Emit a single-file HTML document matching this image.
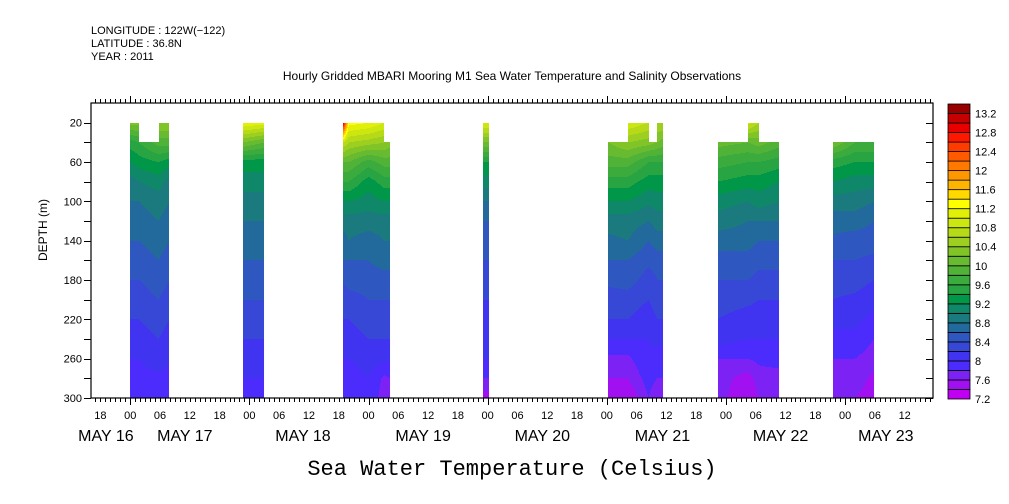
<!DOCTYPE html>
<html><head><meta charset="utf-8"><style>
html,body{margin:0;padding:0;background:#fff;}
svg{display:block;font-family:"Liberation Sans",sans-serif;}
</style></head><body>
<svg id="chart" width="1009" height="504" viewBox="0 0 1009 504" xmlns="http://www.w3.org/2000/svg">
<g font-size="11" fill="#000">
<text x="91" y="34">LONGITUDE : 122W(−122)</text>
<text x="91" y="47">LATITUDE : 36.8N</text>
<text x="91" y="60">YEAR : 2011</text>
</g>
<text x="512" y="80" font-size="12" text-anchor="middle">Hourly Gridded MBARI Mooring M1 Sea Water Temperature and Salinity Observations</text>
<g id="cells"></g>
<g id="axes"></g>
<g id="cbar"></g>
<text x="47" y="230" font-size="12" text-anchor="middle" transform="rotate(-90 47 230)">DEPTH (m)</text>
<text x="512" y="475" font-size="22" text-anchor="middle" font-family="Liberation Mono, monospace">Sea Water Temperature (Celsius)</text>
</svg>
<script>
// ---- data ----
const depths = [20,40,60,80,100,120,140,160,180,200,220,240,260,280,300];
const levels = [7.2,7.4,7.6,7.8,8.0,8.2,8.4,8.6,8.8,9.0,9.2,9.4,9.6,9.8,10.0,10.2,10.4,10.6,10.8,11.0,11.2,11.4,11.6,11.8,12.0,12.2,12.4,12.6,12.8,13.0,13.2,13.4];
const levelColors = ["#c000f0","#a010f0","#7c22f4","#4c2cfc","#4034f0","#3848d6","#2e58c0","#236a9c","#1a7a7e","#0e8868","#009848","#28a442","#3aab3c","#50b236","#68ba30","#80c428","#9ccf20","#b6da18","#cce610","#e2f008","#ffff00","#ffd800","#ffb400","#ff9800","#ff7800","#ff5a00","#ff3c00","#ff1800","#e80000","#c40000","#980000"];
const colorbarLabels = ["7.2","7.6","8","8.4","8.8","9.2","9.6","10","10.4","10.8","11.2","11.6","12","12.4","12.8","13.2"];
const hourTickLabels = ["18","00","06","12","18","00","06","12","18","00","06","12","18","00","06","12","18","00","06","12","18","00","06","12","18","00","06","12"];
const hourTickValues = [-6,0,6,12,18,24,30,36,42,48,54,60,66,72,78,84,90,96,102,108,114,120,126,132,138,144,150,156];
const dateLabels = ["MAY 16","MAY 17","MAY 18","MAY 19","MAY 20","MAY 21","MAY 22","MAY 23"];
const dateLabelHours = [-4.9,11,34.8,59,83,107.2,131,152.2];
const depthTicks = [20,60,100,140,180,220,260,300];
// blocks: column hours, tops for each interval, profiles per column
const block1Hours = [0,1.8,5.7,7.9];
const block1Tops = [20,40,20];
const block1Profiles = [
 [10.3,9.5,9.2,8.9,8.8,8.7,8.6,8.5,8.4,8.3,8.2,8.1,8.0,7.9,7.8],
 [10.3,9.6,9.3,9.0,8.8,8.7,8.6,8.5,8.4,8.3,8.2,8.1,8.0,7.95,7.8],
 [10.4,9.9,9.4,9.1,8.9,8.8,8.7,8.6,8.5,8.4,8.3,8.2,8.1,7.95,7.9],
 [10.4,9.9,9.3,8.9,8.8,8.7,8.6,8.5,8.4,8.3,8.2,8.1,8.0,7.95,7.9]];
const block2Hours = [22.8,27.0];
const block2Tops = [20];
const block2Profiles = [
 [11.2,10.2,9.3,9.1,8.9,8.8,8.7,8.6,8.5,8.4,8.3,8.2,8.1,8.0,7.8],
 [11.1,10.0,9.3,9.1,8.9,8.8,8.75,8.6,8.5,8.4,8.3,8.2,8.1,8.0,7.9]];
const block3Hours = [42.9,44,48,51.2,52.4];
const block3Tops = [20,20,20,40];
const block3Profiles = [
 [13.0,10.8,10.0,9.6,9.2,8.9,8.7,8.6,8.4,8.3,8.2,8.1,8.0,7.9,7.9],
 [11.3,10.6,10.0,9.6,9.2,8.9,8.8,8.6,8.5,8.3,8.2,8.1,8.0,7.9,7.9],
 [11.2,10.5,9.7,9.3,9.1,8.9,8.7,8.6,8.5,8.4,8.3,8.2,8.1,8.0,7.95],
 [11.0,10.4,9.9,9.5,9.2,8.9,8.8,8.7,8.5,8.4,8.3,8.2,8.05,7.75,7.7],
 [11.0,10.3,9.9,9.5,9.2,8.9,8.8,8.7,8.5,8.4,8.3,8.2,8.05,7.8,7.7]];
const block4Hours = [71.0,72.3];
const block4Tops = [20];
const block4Profiles = [
 [11.0,10.2,9.4,9.1,8.8,8.6,8.5,8.4,8.3,8.2,8.1,8.05,8.0,7.8,7.5],
 [11.0,10.2,9.4,9.1,8.8,8.6,8.5,8.4,8.3,8.2,8.1,8.05,8.0,7.8,7.5]];
const block5Hours = [96.2,100.2,104.4,106.2,107.4];
const block5Tops = [40,20,40,20];
const block5Profiles = [
 [10.4,10.2,9.9,9.5,9.2,8.9,8.75,8.6,8.45,8.3,8.2,8.0,7.75,7.6,7.5],
 [11.0,10.4,9.9,9.5,9.2,8.9,8.8,8.6,8.5,8.3,8.2,8.0,7.75,7.6,7.4],
 [10.8,10.3,9.6,9.3,9.05,8.8,8.6,8.45,8.3,8.2,8.1,8.0,8.0,7.9,7.8],
 [10.6,10.2,9.6,9.3,9.1,8.9,8.7,8.5,8.4,8.3,8.2,8.05,7.9,7.8,7.6],
 [10.6,10.1,9.6,9.3,9.1,8.9,8.7,8.5,8.4,8.3,8.2,8.05,7.9,7.8,7.6]];
const block6Hours = [118.3,124.4,126.6,130.7];
const block6Tops = [40,20,40];
const block6Profiles = [
 [10.4,10.1,9.7,9.4,9.1,8.9,8.7,8.5,8.4,8.3,8.2,8.1,7.8,7.7,7.7],
 [10.9,10.0,9.6,9.3,9.0,8.8,8.7,8.5,8.4,8.25,8.1,8.0,7.8,7.5,7.4],
 [10.6,10.1,9.6,9.3,9.1,8.8,8.6,8.45,8.35,8.2,8.1,8.0,7.85,7.7,7.6],
 [10.4,9.9,9.5,9.2,9.0,8.8,8.6,8.45,8.35,8.2,8.1,8.0,7.9,7.7,7.6]];
const block7Hours = [141.5,146,149.8];
const block7Tops = [40,40];
const block7Profiles = [
 [10.4,10.2,9.5,9.2,8.9,8.7,8.55,8.4,8.3,8.2,8.05,7.95,7.8,7.7,7.6],
 [10.3,9.8,9.4,9.1,8.9,8.7,8.5,8.4,8.3,8.15,8.05,7.95,7.8,7.7,7.6],
 [10.3,9.8,9.4,9.1,8.8,8.6,8.5,8.35,8.2,8.05,7.95,7.8,7.7,7.55,7.5]];
const blocksHours = [block1Hours,block2Hours,block3Hours,block4Hours,block5Hours,block6Hours,block7Hours];
const blocksTops = [block1Tops,block2Tops,block3Tops,block4Tops,block5Tops,block6Tops,block7Tops];
const blocksProfiles = [block1Profiles,block2Profiles,block3Profiles,block4Profiles,block5Profiles,block6Profiles,block7Profiles];

// ---- scales ----
const X0=91,X1=933,Y0=103,Y1=398;
const H0=-7.9,H1=161.7;
function xs(h){return X0+(h-H0)/(H1-H0)*(X1-X0);}
function hx(x){return H0+(x-X0)/(X1-X0)*(H1-H0);}
const D0=0,D1=300;
function ys(d){return Y0+(d-D0)/(D1-D0)*(Y1-Y0);}
function yd(y){return D0+(y-Y0)/(Y1-Y0)*(D1-D0);}
function colorFor(t){
  for(let i=levels.length-2;i>=0;i--){ if(t>=levels[i]) return levelColors[i]; }
  return levelColors[0];
}
function interpProfile(p,d){
  if(d<=depths[0]) return p[0];
  for(let i=0;i<depths.length-1;i++){
    if(d<=depths[i+1]){const f=(d-depths[i])/(depths[i+1]-depths[i]);return p[i]+(p[i+1]-p[i])*f;}
  }
  return p[p.length-1];
}
const NS="http://www.w3.org/2000/svg";
function mk(tag,attrs,parent){const e=document.createElementNS(NS,tag);for(const k in attrs)e.setAttribute(k,attrs[k]);parent.appendChild(e);return e;}

// ---- field ----
const cells=document.getElementById('cells');
blocksHours.forEach((hrs,b)=>{
  const tops=blocksTops[b], profs=blocksProfiles[b];
  const g=mk('g',{},cells);
  
  
  const xa=Math.round(xs(hrs[0])), xb=Math.round(xs(hrs[hrs.length-1]));
  for(let x=xa;x<xb;x++){
    const h=hx(x+0.5);
    let k=0; while(k<hrs.length-2 && h>=hrs[k+1]) k++;
    const f=Math.max(0,Math.min(1,(h-hrs[k])/(hrs[k+1]-hrs[k])));
    const top=tops[k];
    const yStart=Math.round(ys(top));
    let runStart=yStart, runColor=null;
    for(let y=yStart;y<=Y1;y++){
      let c=null;
      if(y<Y1){
        const d=yd(y+0.5);
        const t=interpProfile(profs[k],d)*(1-f)+interpProfile(profs[k+1],d)*f;
        c=colorFor(t);
      }
      if(c!==runColor){
        if(runColor){
          const r=mk('rect',{x:x,y:runStart,width:1.02,height:y-runStart,fill:runColor},g);
          
          
        }
        runColor=c; runStart=y;
      }
    }
  }
});

// ---- axes ----
const ax=document.getElementById('axes');
mk('rect',{x:X0,y:Y0,width:X1-X0,height:Y1-Y0,fill:'none',stroke:'#000','stroke-width':1.2},ax);
for(let h=Math.ceil(H0);h<=H1;h++){
  const x=Math.round(xs(h))+0.5, major=(((h%24)+24)%24===0);
  const l1=major?7:4;
  mk('line',{x1:x,y1:Y0,x2:x,y2:Y0-l1,stroke:'#000'},ax);
  mk('line',{x1:x,y1:Y1,x2:x,y2:Y1+l1,stroke:'#000'},ax);
}
hourTickValues.forEach((h,i)=>{
  const t=mk('text',{x:xs(h),y:419,'font-size':11,'text-anchor':'middle'},ax);
  t.textContent=hourTickLabels[i];
  
  
});
dateLabels.forEach((s,i)=>{
  const t=mk('text',{x:xs(dateLabelHours[i]),y:441,'font-size':16,'text-anchor':'middle'},ax);
  t.textContent=s;
  
  
});
for(let d=20;d<=300;d+=20){
  const y=Math.round(ys(d))+0.5;
  mk('line',{x1:X0,y1:y,x2:X0-7,y2:y,stroke:'#000'},ax);
  mk('line',{x1:X1,y1:y,x2:X1-7,y2:y,stroke:'#000'},ax);
}
depthTicks.forEach(d=>{
  const t=mk('text',{x:82,y:ys(d)+4,'font-size':11,'text-anchor':'end'},ax);
  t.textContent=String(d);
  
  
});

// ---- colorbar ----
const cb=document.getElementById('cbar');
const CB0=104,CB1=399,CBX=948,CBW=22;
const nb=levelColors.length, bh=(CB1-CB0)/nb;
levelColors.forEach((c,i)=>{
  const r=mk('rect',{x:CBX,y:CB1-(i+1)*bh,width:CBW,height:bh,fill:c,stroke:'#000','stroke-width':0.8},cb);
  
  
});
colorbarLabels.forEach((s,i)=>{
  const y=CB1-i*2*bh;
  const t=mk('text',{x:975,y:y+4,'font-size':11},cb);
  t.textContent=s;
  
  
});
</script>
</body></html>
